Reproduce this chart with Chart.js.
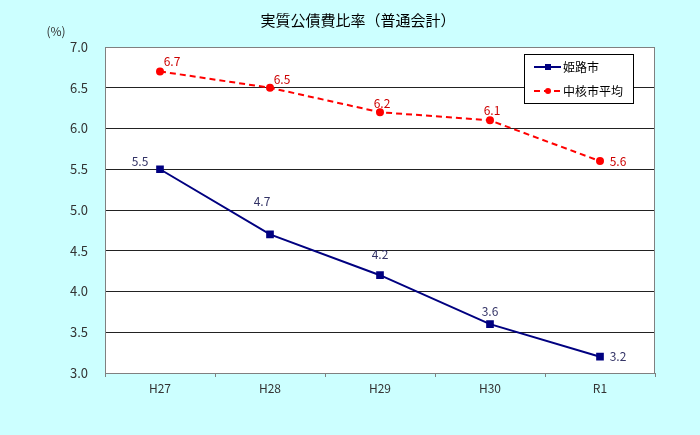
<!DOCTYPE html>
<html>
<head>
<meta charset="utf-8">
<script src="https://cdn.jsdelivr.net/npm/chart.js@4/dist/chart.umd.min.js"></script>
<style>
  html, body { margin: 0; padding: 0; background: #ccffff; }
  canvas { display: block; }
</style>
</head>
<body>
<canvas id="myChart" width="700" height="435"></canvas>
<script>
// data
var years = ['H27', 'H28', 'H29', 'H30', 'R1'];
var himeji = [5.5, 4.7, 4.2, 3.6, 3.2];
var chukakuAvg = [6.7, 6.5, 6.2, 6.1, 5.6];
var seriesNames = ['姫路市', '中核市平均'];
var yTicks = [3.0, 3.5, 4.0, 4.5, 5.0, 5.5, 6.0, 6.5, 7.0];
var chartTitle = '実質公債費比率（普通会計）';

var FONT = '"Noto Sans CJK JP", "DejaVu Sans", sans-serif';

// label offsets (dx, dy) from each point, per series
var labelOffsets = [
    [[-20, -8], [-8, -33], [0, -21], [0, -13], [18, 0]],
    [[12, -10], [12, -8], [2, -9], [2, -10], [18, 0]]
];
var labelColors = ['#333366', '#cc0000'];

var extras = {
    id: 'extras',
    beforeDraw: function (chart) {
        var c = chart.ctx, a = chart.chartArea;
        c.save();
        c.fillStyle = '#ccffff';
        c.fillRect(0, 0, chart.width, chart.height);
        c.fillStyle = '#ffffff';
        c.fillRect(a.left, a.top, a.right - a.left, a.bottom - a.top);
        c.restore();
    },
    afterDatasetsDraw: function (chart) {
        var c = chart.ctx, a = chart.chartArea;
        c.save();
        // plot border
        c.strokeStyle = '#808080';
        c.lineWidth = 1;
        c.strokeRect(a.left + 0.5, a.top + 0.5, a.right - a.left - 1, a.bottom - a.top);

        // title
        c.fillStyle = '#000000';
        c.font = '15px ' + FONT;
        c.textAlign = 'center';
        c.textBaseline = 'middle';
        c.fillText(chartTitle, 358, 20);

        // value labels
        c.font = '12px ' + FONT;
        chart.data.datasets.forEach(function (ds, i) {
            var meta = chart.getDatasetMeta(i);
            meta.data.forEach(function (pt, j) {
                c.fillStyle = labelColors[i];
                var o = labelOffsets[i][j];
                c.fillText(ds.data[j].toFixed(1), pt.x + o[0], pt.y + o[1]);
            });
        });

        // unit
        c.fillStyle = '#333333';
        c.font = '12px ' + FONT;
        c.fillText('(%)', 56, 31);

        // legend box
        var lx = 524, ly = 54, lw = 109, lh = 49;
        c.fillStyle = '#ffffff';
        c.fillRect(lx, ly, lw, lh);
        c.strokeStyle = '#000000';
        c.strokeRect(lx + 0.5, ly + 0.5, lw, lh);
        chart.data.datasets.forEach(function (ds, i) {
            var y = ly + 13 + i * 24;
            c.strokeStyle = ds.borderColor;
            c.lineWidth = 2;
            c.setLineDash(ds.borderDash || []);
            c.beginPath();
            c.moveTo(lx + 10, y);
            c.lineTo(lx + 37, y);
            c.stroke();
            c.setLineDash([]);
            c.fillStyle = ds.borderColor;
            if (ds.pointStyle === 'rect') {
                c.fillRect(lx + 21, y - 3, 6, 6);
            } else {
                c.beginPath();
                c.arc(lx + 24, y, 3, 0, Math.PI * 2);
                c.fill();
            }
            c.fillStyle = '#000000';
            c.textAlign = 'left';
            c.font = '12px ' + FONT;
            c.fillText(ds.label, lx + 39, y);
        });
        c.restore();
    }
};

var ctx = document.getElementById('myChart').getContext('2d');
var chart = new Chart(ctx, {
    type: 'line',
    data: {
        labels: years,
        datasets: [{
            label: seriesNames[0],
            data: himeji,
            borderColor: '#000080',
            backgroundColor: '#000080',
            borderWidth: 2,
            pointStyle: 'rect',
            pointRadius: 4,
            tension: 0
        }, {
            label: seriesNames[1],
            data: chukakuAvg,
            borderColor: '#ff0000',
            backgroundColor: '#ff0000',
            borderWidth: 2,
            borderDash: [6, 4],
            pointStyle: 'circle',
            pointRadius: 3,
            tension: 0
        }]
    },
    options: {
        responsive: false,
        animation: false,
        layout: { padding: { left: 0, right: 45, top: 47, bottom: 0 } },
        plugins: {
            legend: { display: false },
            tooltip: { enabled: false },
            title: { display: false }
        },
        scales: {
            x: {
                offset: true,
                grid: { offset: true, drawOnChartArea: false, tickLength: 4, color: '#808080' },
                border: { display: false },
                ticks: { color: '#333333', font: { family: FONT, size: 12 }, padding: 4 },
                afterFit: function (s) { s.height = 62; }
            },
            y: {
                min: 3, max: 7,
                afterBuildTicks: function (s) { s.ticks = yTicks.map(function (v) { return { value: v }; }); },
                grid: { color: '#222222', drawTicks: false },
                border: { display: false },
                ticks: {
                    color: '#333333', font: { family: FONT, size: 13 }, padding: 17,
                    callback: function (v) { return v.toFixed(1); }
                },
                afterFit: function (s) { s.width = 105; }
            }
        }
    },
    plugins: [extras]
});
</script>
</body>
</html>
